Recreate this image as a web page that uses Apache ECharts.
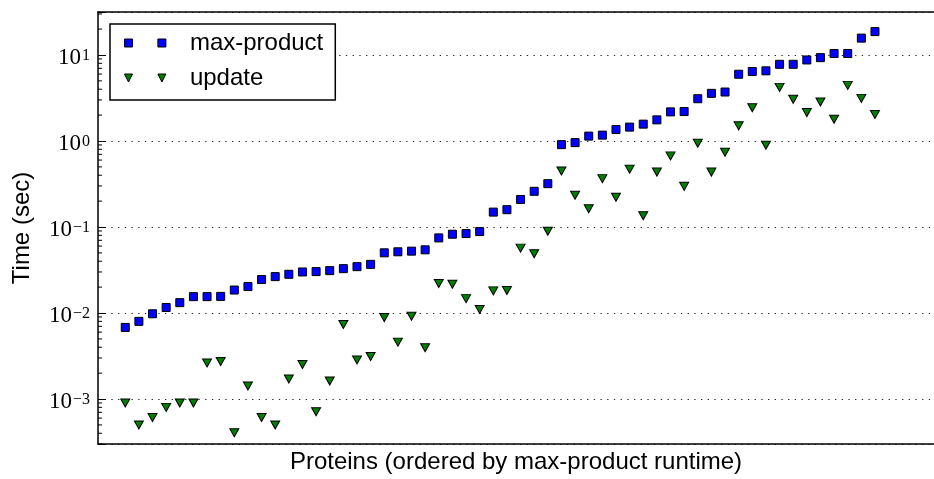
<!DOCTYPE html>
<html><head><meta charset="utf-8">
<script src="https://cdn.jsdelivr.net/npm/echarts@6/dist/echarts.min.js"></script>
<style>html,body{margin:0;padding:0;background:#fff}#c{width:934px;height:479px}</style>
</head><body><div id="c"></div>
<script>
// Protein index (ordered by max-product runtime)
const proteins = Array.from({length: 56}, (_, i) => i + 1);
// Time (sec) for max-product
const maxProduct = [0.0068,0.0080,0.0098,0.0116,0.0132,0.0155,0.0155,0.0156,0.0185,0.0203,
  0.0245,0.0265,0.0282,0.0300,0.0303,0.0311,0.0328,0.0346,0.0368,0.0501,
  0.0515,0.0524,0.0543,0.0747,0.0824,0.0839,0.0885,0.149,0.159,0.209,
  0.260,0.319,0.907,0.957,1.14,1.17,1.36,1.45,1.57,1.76,
  2.18,2.20,3.10,3.58,3.71,5.97,6.42,6.54,7.79,7.79,
  8.75,9.31,10.4,10.4,15.7,18.7];
// Time (sec) for update
const update = [0.00090,0.000498,0.00061,0.00080,0.00090,0.00090,0.00263,0.00273,0.000406,0.00142,
  0.00061,0.000498,0.00171,0.00252,0.00071,0.00162,0.00735,0.00285,0.00312,0.00885,
  0.00459,0.00916,0.00395,0.0220,0.0216,0.0147,0.0110,0.0181,0.0183,0.0568,
  0.0488,0.0892,0.447,0.234,0.163,0.365,0.222,0.471,0.135,0.435,
  0.671,0.297,0.940,0.435,0.740,1.50,2.44,0.891,4.20,3.05,
  2.14,2.84,1.79,4.43,3.13,2.03];
// y tick labels (powers of ten)
const yTickExponents = [-3, -2, -1, 0, 1];
// minor tick values
const minorTicks = [];
for (let k = -4; k <= 1; k++) for (let m = 2; m <= 9; m++) {
  const v = m * Math.pow(10, k);
  if (v >= 0.0003 && v <= 31.6) minorTicks.push(v);
}

const X_MIN = -1, X_MAX = 60.33;
const chart = echarts.init(document.getElementById('c'));
const sans = 'Liberation Sans, Arial, sans-serif';
const serif = 'Liberation Serif, serif';

chart.setOption({
  animation: false,
  backgroundColor: '#fff',
  grid: {left: 98, right: 0, top: 12, bottom: 31.3},
  xAxis: [{
    type: 'value', min: X_MIN, max: X_MAX,
    name: 'Proteins (ordered by max-product runtime)',
    nameLocation: 'middle', nameGap: 6,
    nameTextStyle: {fontFamily: sans, fontSize: 24, color: '#000', verticalAlign: 'top'},
    axisLine: {show: true, onZero: false, lineStyle: {color: '#000', width: 1.5}},
    axisTick: {show: false}, axisLabel: {show: false}, splitLine: {show: false}
  }, {
    type: 'value', min: X_MIN, max: X_MAX, position: 'top',
    axisLine: {show: true, onZero: false, lineStyle: {color: '#000', width: 1.5}},
    axisTick: {show: false}, axisLabel: {show: false}, splitLine: {show: false}
  }],
  yAxis: {
    type: 'log', logBase: 10, min: 0.0003, max: 31.6,
    name: 'Time (sec)', nameLocation: 'middle', nameGap: 64,
    nameTextStyle: {fontFamily: sans, fontSize: 24, color: '#000'},
    axisLine: {show: true, onZero: false, lineStyle: {color: '#000', width: 1.5}},
    axisTick: {show: true, inside: true, length: 8, lineStyle: {color: '#000', width: 1}},
    splitLine: {show: true, lineStyle: {color: '#222', width: 1, type: [1.3, 5.4]}},
    axisLabel: {
      margin: 8,
      formatter: function (v) {
        const e = Math.log10(v), r = Math.round(e);
        if (Math.abs(e - r) > 1e-6 || yTickExponents.indexOf(r) < 0) return '';
        return '{b|10}{s|' + (r < 0 ? '\u2212' + (-r) : String(r)) + '}';
      },
      rich: {
        b: {fontFamily: serif, fontSize: 23, color: '#000', lineHeight: 28, padding: [6, 0, 0, 0]},
        s: {fontFamily: serif, fontSize: 16, color: '#000', lineHeight: 16, verticalAlign: 'top', padding: [7, 0, 0, 1]}
      }
    }
  },
  legend: {
    orient: 'vertical', left: 110, top: 24,
    padding: [7, 12, 10, 14], itemGap: 11,
    itemWidth: 41.4, itemHeight: 8,
    borderColor: '#000', borderWidth: 1.5, backgroundColor: '#fff',
    textStyle: {fontFamily: sans, fontSize: 24, color: '#000', padding: [0, 0, 0, 19]},
    data: [
      {name: 'max-product', icon: 'path://M0,0L8,0L8,8L0,8Z M33.4,0L41.4,0L41.4,8L33.4,8Z',
       itemStyle: {color: '#0000ff', borderColor: '#000', borderWidth: 1}},
      {name: 'update', icon: 'path://M0,0L8,0L4,8Z M33.4,0L41.4,0L37.4,8Z',
       itemStyle: {color: '#008000', borderColor: '#000', borderWidth: 1}}
    ]
  },
  series: [{
    name: 'max-product', type: 'scatter', symbol: 'rect', symbolSize: 8,
    data: proteins.map((p, i) => [p, maxProduct[i]]),
    itemStyle: {color: '#0000ff', borderColor: '#000', borderWidth: 1, opacity: 1}
  }, {
    name: 'update', type: 'scatter', symbol: 'triangle', symbolRotate: 180, symbolSize: [9, 8],
    data: proteins.map((p, i) => [p, update[i]]),
    itemStyle: {color: '#008000', borderColor: '#000', borderWidth: 1, opacity: 1}
  }, {
    name: 'minor', type: 'custom', silent: true, z: 5,
    data: minorTicks.map(v => [X_MIN, v]),
    renderItem: function (params, api) {
      const p = api.coord([api.value(0), api.value(1)]);
      return {type: 'line', shape: {x1: p[0], y1: p[1], x2: p[0] + 4, y2: p[1]},
        style: {stroke: '#000', lineWidth: 1}};
    }
  }]
});
</script></body></html>
